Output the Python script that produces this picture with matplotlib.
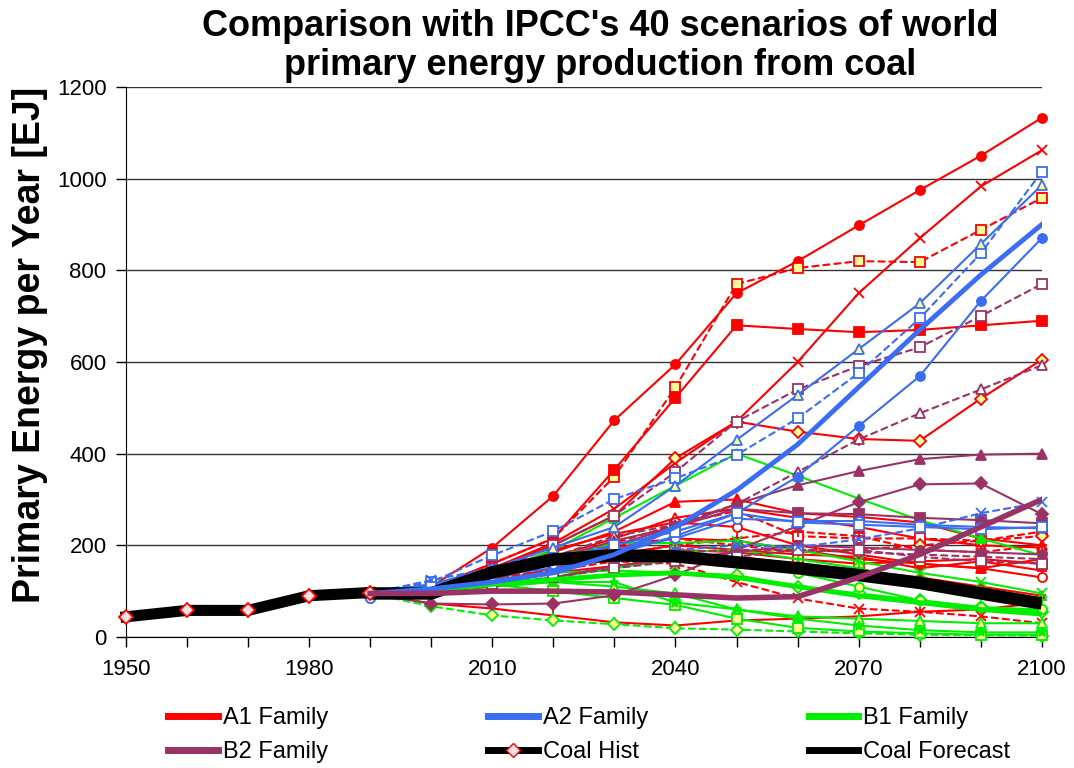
import matplotlib
matplotlib.use("Agg")
import matplotlib.pyplot as plt
from matplotlib.lines import Line2D

plt.rcParams["font.family"] = ["Liberation Sans", "DejaVu Sans"]

# ---- data (EJ per year) ----
hist_years = [1950, 1960, 1970, 1980, 1990]
coal_hist = [44, 58, 58, 90, 97]

years = [1990, 2000, 2010, 2020, 2030, 2040, 2050, 2060, 2070, 2080, 2090, 2100]
coal_forecast = [95, 95, 141, 169, 178, 176, 163, 150, 135, 118, 95, 73]

a1 = [
    [95, 110, 195, 308, 473, 595, 750, 820, 898, 975, 1050, 1133],
    [95, 105, 150, 205, 280, 380, 470, 600, 750, 870, 983, 1062],
    [95, 108, 160, 215, 350, 545, 770, 805, 820, 818, 888, 958],
    [95, 108, 160, 215, 365, 522, 680, 672, 665, 670, 680, 690],
    [95, 108, 150, 200, 265, 390, 470, 448, 432, 428, 520, 605],
    [95, 105, 140, 185, 230, 295, 300, 270, 262, 250, 215, 200],
    [95, 105, 135, 175, 215, 260, 280, 260, 240, 215, 200, 195],
    [95, 105, 135, 170, 205, 245, 275, 220, 215, 215, 210, 230],
    [95, 100, 130, 160, 180, 200, 190, 180, 175, 150, 165, 145],
    [95, 100, 125, 145, 165, 160, 120, 84, 62, 55, 45, 30],
    [95, 73, 62, 47, 32, 25, 36, 40, 45, 55, 60, 75],
    [95, 100, 125, 165, 200, 215, 200, 185, 190, 200, 210, 220],
    [95, 105, 140, 190, 225, 250, 240, 200, 180, 160, 150, 130],
    [95, 102, 130, 165, 195, 215, 210, 190, 170, 160, 150, 170],
    [95, 102, 120, 150, 170, 190, 185, 170, 160, 165, 170, 160],
    [95, 100, 120, 140, 155, 170, 175, 160, 145, 130, 110, 90],
    [95, 100, 125, 150, 180, 200, 215, 230, 220, 190, 185, 200],
]
a2 = [
    [95, 120, 178, 231, 301, 346, 397, 477, 576, 695, 837, 1015],
    [95, 115, 150, 195, 240, 330, 430, 528, 628, 728, 857, 986],
    [95, 110, 135, 150, 180, 220, 270, 350, 460, 569, 733, 870],
    [95, 124, 150, 165, 175, 190, 200, 196, 213, 237, 270, 294],
    [85, 110, 130, 160, 190, 215, 258, 253, 253, 245, 240, 237],
    [95, 110, 140, 170, 200, 230, 270, 250, 245, 240, 235, 240],
]
b1 = [
    [95, 115, 140, 190, 260, 330, 400, 352, 302, 255, 215, 178],
    [95, 110, 135, 175, 205, 205, 210, 190, 165, 140, 120, 95],
    [95, 105, 125, 140, 145, 140, 135, 110, 95, 80, 65, 55],
    [95, 100, 110, 120, 110, 95, 60, 45, 40, 35, 30, 30],
    [95, 67, 47, 36, 28, 19, 16, 12, 8, 5, 4, 3],
    [95, 100, 115, 100, 85, 70, 40, 20, 12, 8, 5, 5],
    [95, 105, 130, 160, 175, 185, 190, 170, 150, 120, 100, 80],
    [95, 100, 115, 130, 150, 170, 175, 140, 110, 80, 65, 60],
    [95, 100, 110, 120, 120, 75, 60, 40, 25, 15, 10, 10],
]
b2 = [
    [95, 110, 140, 200, 265, 360, 470, 540, 591, 632, 700, 770],
    [95, 105, 130, 175, 220, 245, 290, 360, 431, 488, 540, 593],
    [95, 105, 130, 170, 210, 240, 290, 331, 362, 388, 398, 400],
    [95, 73, 71, 73, 91, 135, 190, 242, 294, 333, 335, 268],
    [95, 105, 125, 160, 200, 240, 280, 270, 268, 260, 255, 248],
    [85, 100, 120, 150, 175, 185, 190, 190, 185, 180, 175, 170],
    [95, 100, 110, 130, 155, 170, 185, 200, 195, 190, 185, 180],
    [95, 105, 115, 130, 150, 165, 175, 190, 190, 175, 165, 160],
]
a2_avg = [95, 105, 120, 140, 180, 240, 320, 420, 545, 670, 790, 900]
b1_avg = [95, 100, 115, 125, 135, 140, 130, 110, 90, 75, 60, 50]
b2_avg = [95, 95, 100, 100, 98, 92, 85, 88, 130, 180, 240, 300]

# ---- styles ----
RED, BLUE, GREEN, PURPLE = "#ff0000", "#3a6cf4", "#00ee00", "#993366"
YEL = "#ffff99"
a1_sty = [("o", "-", RED), ("x", "-", RED), ("s", "--", YEL), ("s", "-", RED),
          ("D", "-", YEL), ("^", "-", RED), ("^", "-", YEL), ("s", "--", "white"),
          ("+", "-", RED), ("x", "--", RED), ("|", "-", RED), ("D", "--", YEL),
          ("o", "-", "white"), ("^", "-", RED), ("s", "-", YEL), ("*", "-", RED),
          ("+", "--", RED)]
a2_sty = [("s", "--", "white"), ("^", "-", YEL), ("o", "-", BLUE), ("x", "--", BLUE),
          ("o", "-", "white"), ("s", "-", "white")]
b1_sty = [("^", "-", GREEN), ("x", "-", GREEN), ("D", "-", YEL), ("^", "-", YEL),
          ("D", "--", YEL), ("s", "-", YEL), ("+", "-", GREEN), ("o", "-", YEL),
          ("*", "-", GREEN)]
b2_sty = [("s", "--", "white"), ("^", "--", "white"), ("^", "-", PURPLE), ("D", "-", PURPLE),
          ("s", "-", PURPLE), ("o", "--", "white"), ("o", "-", PURPLE), ("s", "--", "white")]

fig = plt.figure(figsize=(10.74, 7.68), dpi=100)
ax = fig.add_axes([0.1173, 0.1706, 0.8527, 0.7161])

for series, styles, col in [(a1, a1_sty, RED), (b1, b1_sty, GREEN),
                            (b2, b2_sty, PURPLE), (a2, a2_sty, BLUE)]:
    for vals, (mk, ls, fc) in zip(series, styles):
        ax.plot(years, vals, color=col, lw=1.5, ls=ls, marker=mk, ms=6.5,
                mfc=fc, mec=col, mew=1.3, clip_on=False, zorder=3)

ax.plot(years, coal_forecast, color="black", lw=9, solid_capstyle="butt", zorder=5)
ax.plot(hist_years, coal_hist, color="black", lw=8, zorder=5, marker="D", ms=7,
        mfc="#ffe0e0", mec=RED, mew=1.3, clip_on=False)
ax.plot(years, b1_avg, color=GREEN, lw=3.5, zorder=6)
ax.plot(years, a2_avg, color=BLUE, lw=3.5, zorder=6)
ax.plot(years, b2_avg, color=PURPLE, lw=4, zorder=6)

ax.set_xlim(1950, 2100)
ax.set_ylim(0, 1200)
ax.set_xticks(range(1950, 2101, 10))
ax.set_xticklabels([str(y) if (y - 1950) % 30 == 0 else "" for y in range(1950, 2101, 10)])
ax.set_yticks(range(0, 1201, 200))
ax.tick_params(axis="both", labelsize=16, direction="out", length=7, width=1, colors="black")
ax.tick_params(axis="x", pad=9)
ax.tick_params(axis="y", pad=7)
ax.grid(axis="y", color="#333333", lw=1)
ax.set_axisbelow(True)
for s in ["top", "right"]:
    ax.spines[s].set_visible(False)

fig.text(0.028, 0.551, "Primary Energy per Year [EJ]", rotation=90, ha="center", va="center",
         fontsize=27, fontweight="bold")
fig.text(0.559, 0.94, "Comparison with IPCC's 40 scenarios of world\nprimary energy production from coal",
         ha="center", va="center", fontsize=26, fontweight="bold", linespacing=1.15)

handles = [
    Line2D([], [], color=RED, lw=5),
    Line2D([], [], color=PURPLE, lw=5),
    Line2D([], [], color=BLUE, lw=5),
    Line2D([], [], color="black", lw=5, marker="D", ms=7, mfc="#ffe0e0", mec=RED),
    Line2D([], [], color=GREEN, lw=5),
    Line2D([], [], color="black", lw=5),
]
labels = ["A1 Family", "B2 Family", "A2 Family", "Coal Hist", "B1 Family", "Coal Forecast"]
fig.legend(handles, labels, ncol=3, loc="center left", bbox_to_anchor=(0.137, 0.043),
           frameon=False, fontsize=17, handlelength=2.1, handletextpad=0.2,
           columnspacing=6.8, labelspacing=0.5)

fig.savefig("out.png", dpi=100)
